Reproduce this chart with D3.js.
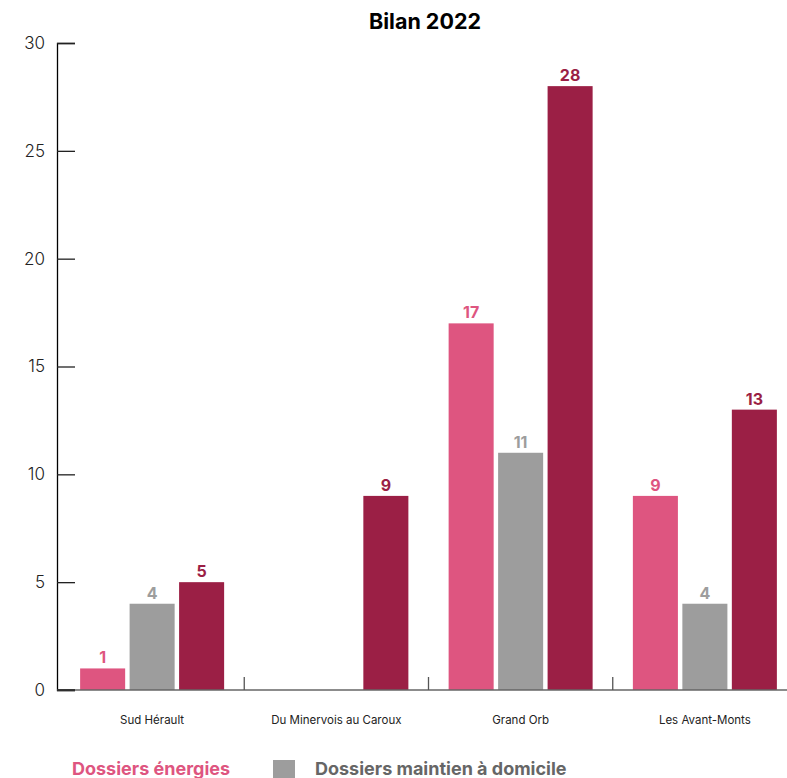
<!DOCTYPE html>
<html><head><meta charset="utf-8">
<script src="https://cdn.jsdelivr.net/npm/d3@7"></script>
<style>body{margin:0;background:#fff}svg{display:block;font-family:"Inter","Lato","DejaVu Sans",sans-serif}</style>
</head><body>
<svg id="c" width="787" height="778"></svg>
<script>
const title = "Bilan 2022";
const categories = ["Sud Hérault", "Du Minervois au Caroux", "Grand Orb", "Les Avant-Monts"];
const seriesNames = ["Dossiers énergies", "Dossiers maintien à domicile", "Total"];
const energies = [1, null, 17, 9];
const maintien = [4, null, 11, 4];
const total = [5, 9, 28, 13];
const colors = ["#de5580", "#9d9d9d", "#9b1f45"];
const yTicks = [0, 5, 10, 15, 20, 25, 30];

const svg = d3.select("#c");
const series = [energies, maintien, total];
const x0 = d3.scaleBand().domain(categories).range([60, 797]);
const x1 = d3.scaleBand().domain(seriesNames).range([0, 144]).paddingInner(0.09);
const y = d3.scaleLinear().domain([0, 30]).range([690, 43]);
const groupOff = (x0.bandwidth() - 144) / 2;

// title
svg.append("text").attr("x", 425).attr("y", 29).attr("text-anchor", "middle")
  .attr("font-size", 21.5).attr("font-weight", 700).attr("fill", "#000").text(title);

// y axis
const yAxis = svg.append("g").attr("transform", "translate(57,0)")
  .call(d3.axisRight(y).tickValues(yTicks).tickSize(18).tickFormat(""));
yAxis.select(".domain").attr("stroke", "#000").attr("stroke-width", 1.3);
yAxis.selectAll(".tick line").attr("stroke", "#222").attr("stroke-width", 1.3);
svg.append("g").selectAll("text").data(yTicks).join("text")
  .attr("x", 45).attr("y", d => y(d)).attr("dy", "0.35em").attr("text-anchor", "end")
  .attr("font-size", 17).attr("font-weight", 300).attr("fill", "#222").text(d => d);

// bars
const rows = [];
categories.forEach((c, i) => series.forEach((s, j) => {
  if (s[i] != null) rows.push({c, name: seriesNames[j], v: s[i], color: colors[j]});
}));
const g = svg.append("g");
g.selectAll("rect").data(rows).join("rect")
  .attr("x", d => x0(d.c) + groupOff + x1(d.name))
  .attr("width", x1.bandwidth())
  .attr("y", d => y(d.v)).attr("height", d => y(0) - y(d.v))
  .attr("fill", d => d.color);
g.selectAll("text").data(rows).join("text")
  .attr("x", d => x0(d.c) + groupOff + x1(d.name) + x1.bandwidth() / 2)
  .attr("y", d => y(d.v) - 5).attr("text-anchor", "middle")
  .attr("font-size", 16).attr("font-weight", 700).attr("fill", d => d.color).text(d => d.v);

// x axis
svg.append("line").attr("x1", 57).attr("x2", 787).attr("y1", y(0)).attr("y2", y(0))
  .attr("stroke", "#666").attr("stroke-width", 1.5);
svg.append("line").attr("x1", 57).attr("x2", 75).attr("y1", y(0)).attr("y2", y(0))
  .attr("stroke", "#222").attr("stroke-width", 1.5);
svg.append("g").selectAll("line").data(categories.slice(1)).join("line")
  .attr("x1", d => x0(d)).attr("x2", d => x0(d))
  .attr("y1", y(0)).attr("y2", y(0) - 13).attr("stroke", "#555").attr("stroke-width", 1.3);
svg.append("g").selectAll("text").data(categories).join("text")
  .attr("x", d => x0(d) + x0.bandwidth() / 2).attr("y", 724).attr("text-anchor", "middle")
  .attr("font-size", 11.5).attr("fill", "#222").text(d => d);

// legend
svg.append("text").attr("x", 72).attr("y", 775).attr("font-size", 18).attr("font-weight", 700)
  .attr("fill", colors[0]).text(seriesNames[0]);
svg.append("rect").attr("x", 273).attr("y", 760).attr("width", 22).attr("height", 22).attr("fill", colors[1]);
svg.append("text").attr("x", 315).attr("y", 775).attr("font-size", 18).attr("font-weight", 700)
  .attr("fill", "#666").text(seriesNames[1]);
</script>
</body></html>
